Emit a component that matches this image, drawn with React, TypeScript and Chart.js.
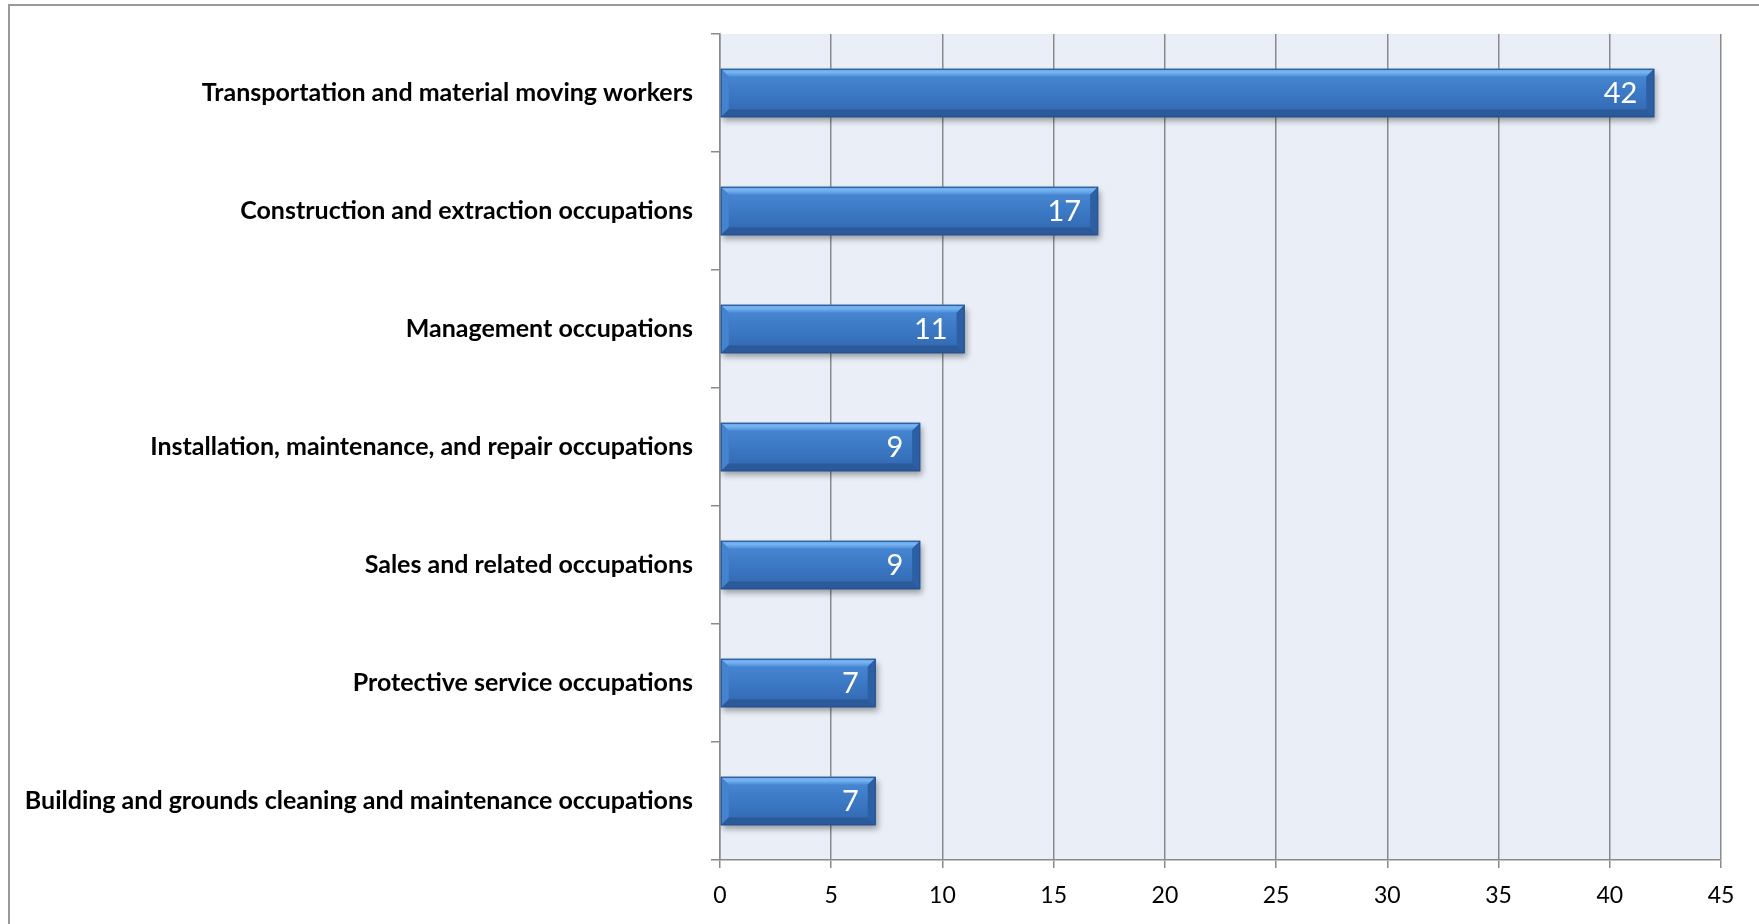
import React, { useEffect, useRef } from "react";
import { Chart, registerables } from "chart.js";

Chart.register(...registerables);

const categories = [
  "Transportation and material moving workers",
  "Construction and extraction occupations",
  "Management occupations",
  "Installation, maintenance, and repair occupations",
  "Sales and related occupations",
  "Protective service occupations",
  "Building and grounds cleaning and maintenance occupations",
];
const values = [42, 17, 11, 9, 9, 7, 7];
const xTickValues = [0, 5, 10, 15, 20, 25, 30, 35, 40, 45];

const FONT = "Lato, 'Open Sans', sans-serif";

const plotBg = {
  id: "plotBg",
  beforeDraw(chart: any) {
    const { ctx, chartArea } = chart;
    ctx.save();
    ctx.fillStyle = "#e9eef7";
    ctx.fillRect(chartArea.left, chartArea.top, chartArea.right - chartArea.left, chartArea.bottom - chartArea.top);
    ctx.restore();
  },
};

const shadowPlugin = {
  id: "barShadow",
  beforeDatasetsDraw(chart: any) {
    const ctx = chart.ctx;
    ctx.save();
    ctx.shadowColor = "rgba(0,0,0,0.35)";
    ctx.shadowBlur = 6;
    ctx.shadowOffsetX = 2;
    ctx.shadowOffsetY = 4;
  },
  afterDatasetsDraw(chart: any) {
    chart.ctx.restore();
  },
};

const bevelPlugin = {
  id: "bevelLabels",
  afterDatasetsDraw(chart: any) {
    const ctx = chart.ctx;
    const meta = chart.getDatasetMeta(0);
    ctx.save();
    meta.data.forEach((el: any, i: number) => {
      const p = el.getProps(["x", "y", "base", "height"], true);
      const left = Math.min(p.base, p.x);
      const right = Math.max(p.base, p.x);
      const top = p.y - p.height / 2;
      const bottom = p.y + p.height / 2;
      const b = 8;
      const g = ctx.createLinearGradient(0, top, 0, bottom);
      g.addColorStop(0, "#4a8ad6");
      g.addColorStop(0.5, "#3c79c4");
      g.addColorStop(1, "#3066ae");
      ctx.fillStyle = g;
      ctx.fillRect(left + b, top + b, right - left - 2 * b, bottom - top - 2 * b);
      const gt = ctx.createLinearGradient(0, top, 0, top + b);
      gt.addColorStop(0, "#5e9fe6");
      gt.addColorStop(0.4, "#7ab6f2");
      gt.addColorStop(1, "#4d8dd8");
      ctx.fillStyle = gt;
      ctx.beginPath();
      ctx.moveTo(left, top);
      ctx.lineTo(right, top);
      ctx.lineTo(right - b, top + b);
      ctx.lineTo(left + b, top + b);
      ctx.closePath();
      ctx.fill();
      ctx.fillStyle = "#4683cf";
      ctx.beginPath();
      ctx.moveTo(left, top);
      ctx.lineTo(left + b, top + b);
      ctx.lineTo(left + b, bottom - b);
      ctx.lineTo(left, bottom);
      ctx.closePath();
      ctx.fill();
      ctx.fillStyle = "#2c5fa3";
      ctx.beginPath();
      ctx.moveTo(right, top);
      ctx.lineTo(right, bottom);
      ctx.lineTo(right - b, bottom - b);
      ctx.lineTo(right - b, top + b);
      ctx.closePath();
      ctx.fill();
      ctx.fillStyle = "#2b5a9a";
      ctx.beginPath();
      ctx.moveTo(left, bottom);
      ctx.lineTo(right, bottom);
      ctx.lineTo(right - b, bottom - b);
      ctx.lineTo(left + b, bottom - b);
      ctx.closePath();
      ctx.fill();
      ctx.strokeStyle = "#2a528a";
      ctx.lineWidth = 1;
      ctx.strokeRect(left + 0.5, top + 0.5, right - left - 1, bottom - top - 1);
      ctx.fillStyle = "#ffffff";
      ctx.font = `29px ${FONT}`;
      ctx.textAlign = "right";
      ctx.textBaseline = "middle";
      ctx.fillText(String(values[i]), right - 17, p.y + 1);
    });
    ctx.restore();
  },
};

export default function App() {
  const ref = useRef<HTMLCanvasElement>(null);

  useEffect(() => {
    document.body.style.margin = "0";
    const canvas = ref.current!;
    const chart = new Chart(canvas, {
      type: "bar",
      data: {
        labels: categories,
        datasets: [
          {
            data: values,
            backgroundColor: "#3a76c2",
            borderColor: "#2a528a",
            borderWidth: 0,
            barPercentage: 0.41,
            categoryPercentage: 1,
          },
        ],
      },
      options: {
        indexAxis: "y",
        responsive: false,
        animation: false,
        layout: { padding: { top: 34, right: 38, left: 0, bottom: 0 } },
        plugins: {
          legend: { display: false },
          tooltip: { enabled: false },
        },
        scales: {
          x: {
            min: 0,
            max: 45,
            afterBuildTicks: (scale: any) => {
              scale.ticks = xTickValues.map((v) => ({ value: v }));
            },
            afterFit: (scale: any) => {
              scale.height = 64;
            },
            grid: {
              color: "#8a8a8a",
              lineWidth: 1.5,
              tickLength: 8,
              drawTicks: true,
            },
            border: { display: true, color: "#8a8a8a", width: 1.5 },
            ticks: {
              color: "#000000",
              font: { family: FONT, size: 23 },
              padding: 14,
            },
          },
          y: {
            afterFit: (scale: any) => {
              scale.width = 720;
            },
            grid: {
              display: true,
              drawOnChartArea: false,
              offset: true,
              color: "#8a8a8a",
              lineWidth: 1.5,
              tickLength: 9,
            },
            border: { display: true, color: "#8a8a8a", width: 1.5 },
            ticks: {
              color: "#000000",
              font: { family: FONT, size: 25, weight: "bold" },
              padding: 18,
            },
          },
        },
      },
      plugins: [plotBg, shadowPlugin, bevelPlugin],
    });
    return () => chart.destroy();
  }, []);

  return (
    <div style={{ position: "relative", width: 1759, height: 924, overflow: "hidden", background: "#fff" }}>
      <canvas ref={ref} width={1759} height={924} style={{ position: "absolute", left: 0, top: 0 }} />
      <div
        style={{
          position: "absolute",
          left: 8,
          top: 4,
          width: 1800,
          height: 1000,
          borderLeft: "2px solid #999",
          borderTop: "2px solid #999",
          pointerEvents: "none",
        }}
      />
    </div>
  );
}
